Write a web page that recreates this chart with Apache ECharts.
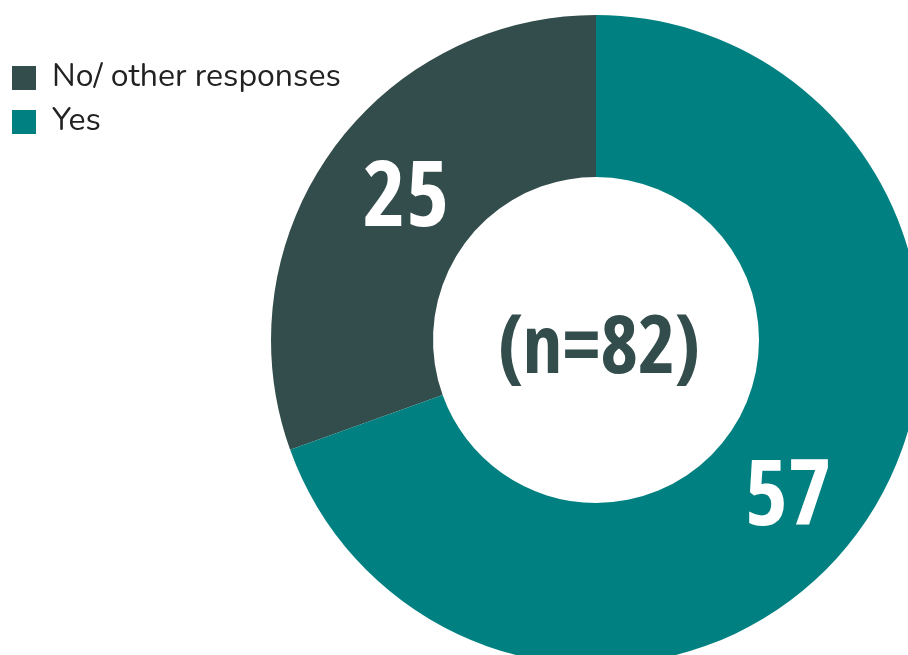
<!DOCTYPE html>
<html>
<head>
<meta charset="utf-8">
<script src="https://cdn.jsdelivr.net/npm/echarts@6/dist/echarts.min.js"></script>
<style>
  html, body { margin: 0; padding: 0; background: #fff; }
  #chart { width: 908px; height: 655px; }
</style>
</head>
<body>
<div id="chart"></div>
<script>
  // 数据
  var categories = ['No/ other responses', 'Yes'];
  var values = [25, 57];
  var colors = ['#324d4b', '#008080'];
  var labelOffsets = [[12, 2], [-10, 17]]; // 标签微调
  var totalText = '(n=82)';

  var condensed = '"Open Sans", sans-serif';

  var chart = echarts.init(document.getElementById('chart'));
  var option = {
    animation: false,
    title: {
      text: totalText,
      left: 594,
      top: 345,
      textAlign: 'center',
      textVerticalAlign: 'middle',
      textStyle: {
        fontFamily: condensed,
        fontWeight: 'bold condensed', // 窄体
        fontSize: 80,
        color: '#324d4b'
      }
    },
    legend: {
      orient: 'vertical',
      left: 7,
      top: 57,
      itemWidth: 24,
      itemHeight: 24,
      itemGap: 12,
      icon: 'rect',
      data: categories,
      textStyle: {
        fontFamily: 'Nunito, "Noto Sans", Lato, sans-serif',
        fontSize: 32,
        lineHeight: 30,
        padding: [0, 0, 0, 11],
        color: '#222'
      }
    },
    series: [{
      type: 'pie',
      center: [596, 340],
      radius: [163, 325],
      startAngle: 90,
      clockwise: false, //逆时针
      silent: true,
      label: {
        show: true,
        position: 'inside',
        formatter: '{c}',
        fontFamily: condensed,
        fontWeight: 'bold condensed',
        fontSize: 92,
        color: '#fff'
      },
      labelLine: { show: false },
      itemStyle: { borderWidth: 0 },
      data: categories.map(function (name, i) {
        return {
          name: name,
          value: values[i],
          itemStyle: { color: colors[i] },
          label: { offset: labelOffsets[i] }
        };
      })
    }]
  };
  chart.setOption(option);
</script>
</body>
</html>
